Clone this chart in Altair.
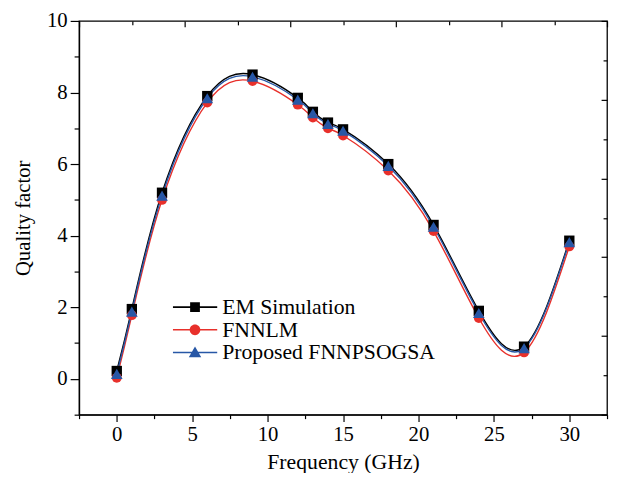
import altair as alt
import pandas as pd

# ---- data ----
freq = [0, 1, 3, 6, 9, 12, 13, 14, 15, 18, 21, 24, 27, 30]
em_sim = [0.22, 1.95, 5.2, 7.9, 8.5, 7.85, 7.46, 7.16, 6.97, 6.0, 4.3, 1.9, 0.9, 3.86]
fnnlm = [0.03, 1.78, 5.0, 7.72, 8.32, 7.66, 7.3, 7.0, 6.8, 5.82, 4.13, 1.7, 0.74, 3.7]
proposed = [0.14, 1.88, 5.12, 7.84, 8.44, 7.8, 7.42, 7.12, 6.93, 5.95, 4.25, 1.84, 0.86, 3.82]
series_names = ["EM Simulation", "FNNLM", "Proposed FNNPSOGSA"]
colors = ["#000000", "#e8302b", "#2757a6"]

# axis tick values
x_major = [0, 5, 10, 15, 20, 25, 30]
x_minor = [-2.5, 2.5, 7.5, 12.5, 17.5, 22.5, 27.5, 32.5]
y_major = [0, 2, 4, 6, 8, 10]
y_minor = [-1, 1, 3, 5, 7, 9]
top_major = [-2.5, 4.5, 11.5, 18.5, 25.5, 32.5]
top_minor = [1, 8, 15, 22, 29]
right_major = [-1, 1.2, 3.4, 5.6, 7.8, 10]
right_minor = [0.1, 2.3, 4.5, 6.7, 8.9]

rows = []
for name, vals in zip(series_names, [em_sim, fnnlm, proposed]):
    for f, v in zip(freq, vals):
        rows.append({"freq": f, "q": v, "series": name})
df = pd.DataFrame(rows)

W, H = 535, 399
FONT = "Liberation Serif"

xs = alt.Scale(domain=[-2.5, 32.5], nice=False, zero=False)
ys = alt.Scale(domain=[-1, 10], nice=False, zero=False)
cs = alt.Scale(domain=series_names, range=colors)

legend_paths = [
    "M-1,-0.035H1V0.035H-1Z M-0.22,-0.22H0.22V0.22H-0.22Z",
    "M-1,-0.035H1V0.035H-1Z M-0.24,0A0.24,0.24 0 1,1 0.24,0A0.24,0.24 0 1,1 -0.24,0Z",
    "M-1,-0.035H1V0.035H-1Z M0,-0.27L0.28,0.21L-0.28,0.21Z",
]


def xax(**kw):
    base = dict(grid=False, labels=False, domain=False, title=None, tickColor="black", tickWidth=1.2)
    base.update(kw)
    return alt.Axis(**base)


base = alt.Chart(df)

leg = alt.Legend(title=None, orient="none", legendX=95, legendY=279,
                 padding=0, labelFont=FONT, labelFontSize=22, labelLimit=400,
                 labelColor="black", symbolSize=2025,
                 symbolStrokeWidth=0, labelOffset=5, clipHeight=22,
                 rowPadding=1, symbolOpacity=1)

legend_layer = (
    base.mark_point(filled=True, opacity=0)
    .encode(
        x=alt.X("freq:Q", scale=xs, axis=None),
        y=alt.Y("q:Q", scale=ys, axis=None),
        color=alt.Color("series:N", scale=cs, legend=leg),
        shape=alt.Shape("series:N", scale=alt.Scale(domain=series_names, range=legend_paths),
                        legend=leg),
    )
)

lines = base.mark_line(interpolate="natural", strokeWidth=1.4).encode(
    x=alt.X("freq:Q", scale=xs,
            axis=xax(orient="bottom", values=x_major, tickSize=7, labels=True, domain=True,
                     domainColor="black", domainWidth=1.3, title="Frequency (GHz)",
                     labelPadding=2, titlePadding=8, titleFontSize=22)),
    y=alt.Y("q:Q", scale=ys,
            axis=xax(orient="left", values=y_major, tickSize=9, labels=True, domain=True,
                     domainColor="black", domainWidth=1.3, title="Quality factor",
                     labelPadding=3, titlePadding=13)),
    color=alt.Color("series:N", scale=cs, legend=None),
)

shapes = ["square", "circle", "triangle-up"]
sizes = [110, 100, 140]
axes_for_points = [
    (xax(orient="bottom", values=x_minor, tickSize=4), xax(orient="left", values=y_minor, tickSize=5)),
    (xax(orient="bottom", offset=-H, values=top_major, tickSize=6),
     xax(orient="left", offset=-W, values=right_major, tickSize=6)),
    (xax(orient="bottom", offset=-H, values=top_minor, tickSize=4),
     xax(orient="left", offset=-W, values=right_minor, tickSize=4)),
]

point_layers = []
for name, shp, sz, (ax_x, ax_y) in zip(series_names, shapes, sizes, axes_for_points):
    point_layers.append(
        base.transform_filter(alt.datum.series == name)
        .mark_point(filled=True, shape=shp, size=sz, opacity=1)
        .encode(
            x=alt.X("freq:Q", scale=xs, axis=ax_x),
            y=alt.Y("q:Q", scale=ys, axis=ax_y),
            color=alt.Color("series:N", scale=cs, legend=None),
        )
    )

chart = (
    alt.layer(legend_layer, lines, *point_layers)
    .resolve_axis(x="independent", y="independent")
    .properties(width=W, height=H, background="white",
                autosize=alt.AutoSizeParams(type="none"),
                padding={"left": 72, "top": 10, "right": 2, "bottom": 56})
    .configure_view(stroke="black", strokeWidth=1.3)
    .configure_axis(labelFont=FONT, labelFontSize=21, labelColor="black", titleFont=FONT,
                    titleFontSize=21, titleFontWeight="normal", titleColor="black")
)

chart.save("out.html", embed_options={"renderer": "svg", "actions": False})
